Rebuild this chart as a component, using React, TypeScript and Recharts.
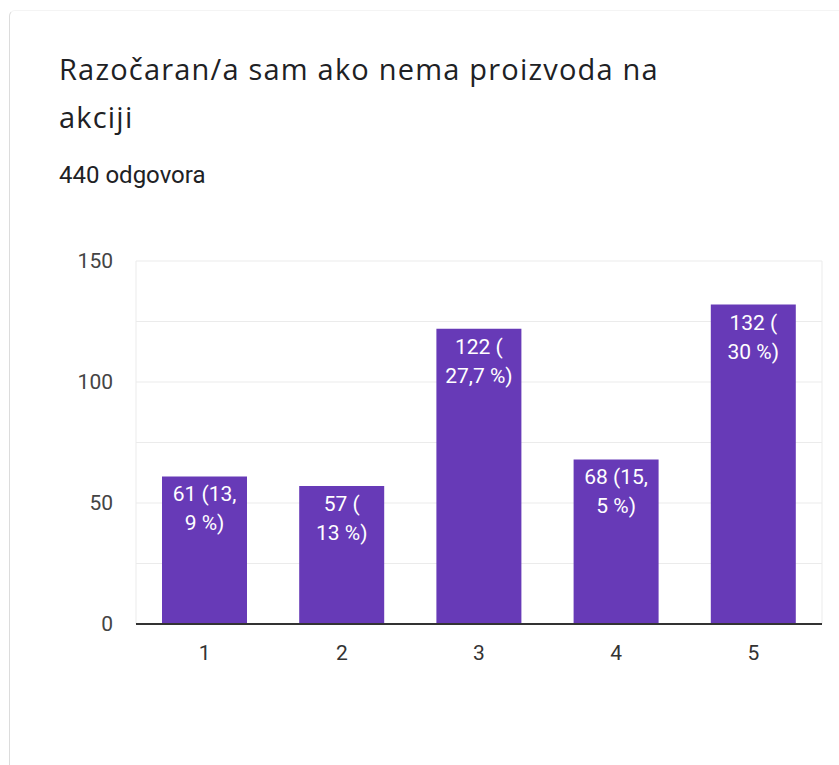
import React from 'react';
import { BarChart, Bar, XAxis, YAxis, CartesianGrid, LabelList } from 'recharts';

const categories = ['1', '2', '3', '4', '5'];
const counts = [61, 57, 122, 68, 132];
const labelLines = [
  ['61 (13,', '9 %)'],
  ['57 (', '13 %)'],
  ['122 (', '27,7 %)'],
  ['68 (15,', '5 %)'],
  ['132 (', '30 %)'],
];
const yTicks = [0, 25, 50, 75, 100, 125, 150];
const titleLines = ['Razočaran/a sam ako nema proizvoda na', 'akciji'];
const subtitle = '440 odgovora';

const data = categories.map((c, i) => ({ name: c, value: counts[i] }));

const BarText = (props: any) => {
  const { x, y, width, index } = props;
  const lines = labelLines[index] || [];
  const cx = x + width / 2;
  return (
    <text x={cx} y={y + 25} fill="#ffffff" fontSize={21} textAnchor="middle" fontFamily="Roboto, Arial, sans-serif">
      {lines.map((l, i) => (
        <tspan key={i} x={cx} dy={i === 0 ? 0 : 29}>{l}</tspan>
      ))}
    </text>
  );
};

export default function App() {
  return (
    <div style={{ position: 'absolute', left: 0, top: 0, width: 839, height: 765, background: '#fff', overflow: 'hidden' }}>
      <div style={{ position: 'absolute', left: 9, top: 10, width: 1000, height: 800, borderLeft: '1px solid #dcdcdc', borderTop: '1px solid #f4f4f4', borderTopLeftRadius: 6 }} />
      <div style={{ position: 'absolute', left: 59, top: 45, fontFamily: '"Open Sans", Roboto, sans-serif', fontSize: 29, letterSpacing: 1.2, lineHeight: '48px', color: '#202124', whiteSpace: 'nowrap' }}>
        {titleLines.map((t, i) => <div key={i}>{t}</div>)}
      </div>
      <div style={{ position: 'absolute', left: 59, top: 161, fontFamily: 'Roboto, Arial, sans-serif', fontSize: 24, color: '#202124' }}>
        {subtitle}
      </div>
      <div style={{ position: 'absolute', left: 0, top: 0 }}>
        <BarChart width={839} height={765} data={data} margin={{ top: 261, right: 17, bottom: 101, left: 0 }} barSize={85}>
          <CartesianGrid
            stroke="#ebebeb"
            horizontal={true}
            verticalCoordinatesGenerator={(p: any) => [p.offset.left, p.offset.left + p.offset.width]}
          />
          <XAxis
            dataKey="name"
            height={40}
            tickLine={false}
            tickSize={6}
            tickMargin={15}
            axisLine={{ stroke: '#333', strokeWidth: 2 }}
            tick={{ fill: '#333', fontSize: 21, fontFamily: 'Roboto, Arial, sans-serif' }}
          />
          <YAxis
            width={136}
            domain={[0, 150]}
            ticks={yTicks}
            interval={0}
            axisLine={false}
            tickLine={false}
            tickSize={6}
            tickMargin={17}
            tickFormatter={(v: number) => (v % 50 === 0 ? String(v) : '')}
            tick={{ fill: '#444', fontSize: 21, fontFamily: 'Roboto, Arial, sans-serif' }}
          />
          <Bar dataKey="value" fill="#673ab7" isAnimationActive={false}>
            <LabelList dataKey="value" content={BarText} />
          </Bar>
        </BarChart>
      </div>
    </div>
  );
}
